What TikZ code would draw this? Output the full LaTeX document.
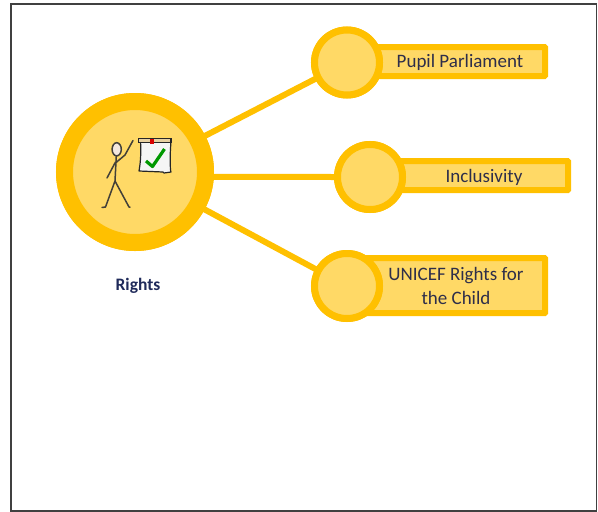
\documentclass[tikz,border=0pt]{standalone}
\usepackage{fontspec}
\setmainfont{Carlito}
\definecolor{ringc}{HTML}{FFC000}
\definecolor{fillc}{HTML}{FFD966}
\definecolor{txtc}{HTML}{2E2E4A}
\definecolor{navyc}{HTML}{1F2A5A}
\tikzset{
  ringnode/.style={circle,draw=ringc,fill=fillc,line width=7pt,inner sep=0pt,outer sep=0pt},
  barnode/.style={draw=ringc,fill=fillc,line width=6pt,inner sep=0pt,outer sep=0pt,anchor=north west,rounded corners=0.5pt},
  labeltext/.style={text=txtc,font=\fontsize{19}{24}\selectfont,align=center,inner sep=0pt},
  linkline/.style={draw=ringc,line width=6pt},
  figline/.style={draw=black!85!yellow,line width=1.5pt,line cap=round,line join=round},
}
\begin{document}
\begin{tikzpicture}[x=1pt,y=-1pt]
\useasboundingbox (0,0) rectangle (598,512);
\fill[white] (0,0) rectangle (598,512);
\coordinate (fa) at (11,4);
\coordinate (fb) at (596.5,511);
\draw[black!75,line width=1.6pt] (fa) rectangle (fb);
% bars
\node[barnode,minimum width=196pt,minimum height=29pt] (b1) at (349,47) {};
\node[barnode,minimum width=196pt,minimum height=29pt] (b2) at (372,161) {};
\node[barnode,minimum width=196pt,minimum height=55pt] (b3) at (349,258) {};
% circles
\node[ringnode,minimum size=141pt,line width=17pt] (main) at (135,172) {};
\node[ringnode,minimum size=65pt] (c1) at (347,62.5) {};
\node[ringnode,minimum size=65pt] (c2) at (370,177) {};
\node[ringnode,minimum size=65pt] (c3) at (347,286) {};
% connectors
\draw[linkline] (main.-27.5) ++(-2,1) coordinate (s1) (main) -- (c1);
\draw[linkline] (main.-4) -- (c2.west);
\draw[linkline] (main) -- (c3);
% re-cover the main circle and small circles
\node[ringnode,minimum size=141pt,line width=17pt] at (main) {};
\node[ringnode,minimum size=65pt] at (c1) {};
\node[ringnode,minimum size=65pt] at (c2) {};
\node[ringnode,minimum size=65pt] at (c3) {};
% labels
\node[labeltext] (t1) at (460,62) {Pupil Parliament};
\node[labeltext] (t2) at (484,177) {Inclusivity};
\node[labeltext] (t3) at (456,286) {UNICEF Rights for\\the Child};
\node[text=navyc,font=\bfseries\fontsize{17.5}{20}\selectfont,inner sep=0pt] (t4) at (138,286) {Rights};
% stick figure
\draw[figline,fill=white!70!brown!60] (116.7,149.3) ellipse (4.6pt and 6.6pt);
\draw[figline] (116.3,156) -- (115,181) (115,181) -- (105.5,207) -- (102,207.5)
  (115,181) -- (129,207) -- (130,207)
  (115.5,162) -- (107,178) (115.5,163) -- (125,155) -- (133,140.5);
% scroll
\draw[black!85,line width=1.2pt,fill=white!92!gray,line join=round]
  (140.5,141) -- (171,141) .. controls (170,155) and (170,160) .. (170.5,170)
  -- (171,172) -- (164,173) -- (163,172) -- (139,171) .. controls (141,160) and (141,150) .. (140.5,141) -- cycle;
\draw[black!85,line width=1.2pt,fill=brown!40!white!90!yellow] (138.5,138.5) rectangle (171,142.5);
\fill[red!85!black] (150,138.5) rectangle (153.5,144);
\draw[green!55!black!90!green,line width=3.2pt,line join=round] (146,161) -- (152.5,166.5) -- (164.5,149);
\end{tikzpicture}
\end{document}
